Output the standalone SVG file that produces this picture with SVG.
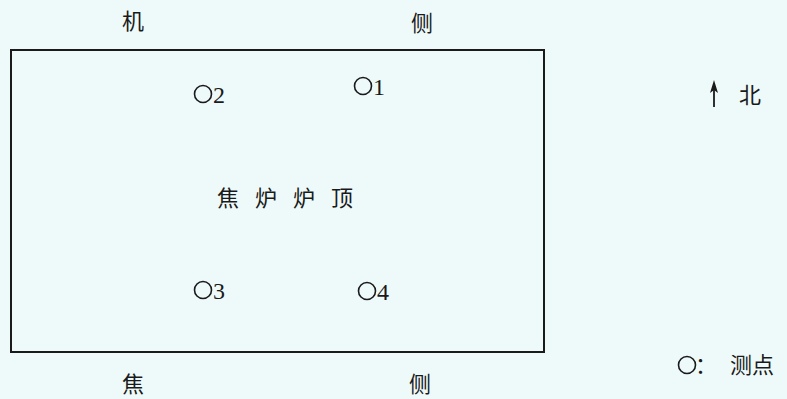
<svg xmlns="http://www.w3.org/2000/svg" width="787" height="399" viewBox="0 0 787 399">
<defs>
<style>
.cjk{font-family:"Noto Sans CJK SC","Noto Sans",sans-serif;font-size:22px;fill:#1a1a1a;text-anchor:middle}
.num{font-family:"Liberation Serif",serif;font-size:24px;fill:#1a1a1a}
.pt{fill:none;stroke:#1a1a1a;stroke-width:1.6}
</style>
</defs>
<rect width="787" height="399" fill="#eefafa"/>
<g id="labels">
<text class="cjk" x="133" y="29">机</text>
<text class="cjk" x="422" y="31">侧</text>
<text class="cjk" x="133" y="392">焦</text>
<text class="cjk" x="420" y="392">侧</text>
</g>
<g id="coke-oven-top">
<rect x="11" y="50" width="533" height="302" fill="none" stroke="#1a1a1a" stroke-width="2"/>
<text class="cjk" x="228" y="206">焦</text>
<text class="cjk" x="266" y="206">炉</text>
<text class="cjk" x="304" y="206">炉</text>
<text class="cjk" x="342" y="206">顶</text>
</g>
<g id="point-1"><circle class="pt" cx="363" cy="86" r="8.5"/><text class="num" x="373" y="95">1</text></g>
<g id="point-2"><circle class="pt" cx="203" cy="94" r="8.5"/><text class="num" x="213" y="103">2</text></g>
<g id="point-3"><circle class="pt" cx="203" cy="290" r="8.5"/><text class="num" x="213" y="299">3</text></g>
<g id="point-4"><circle class="pt" cx="367" cy="291" r="8.5"/><text class="num" x="377" y="300">4</text></g>
<g id="connectors">
<line x1="714" y1="107" x2="714" y2="88" stroke="#1a1a1a" stroke-width="1.8"/>
<path d="M710,93 L714,80 L718,93 L714,90 Z" fill="#1a1a1a"/>
</g>
<g id="north"><text class="cjk" x="750" y="103">北</text></g>
<g id="legend">
<circle class="pt" cx="687" cy="365" r="8.5"/>
<text class="cjk" x="706" y="373">：</text>
<text class="cjk" x="752" y="373">测点</text>
</g>
</svg>
